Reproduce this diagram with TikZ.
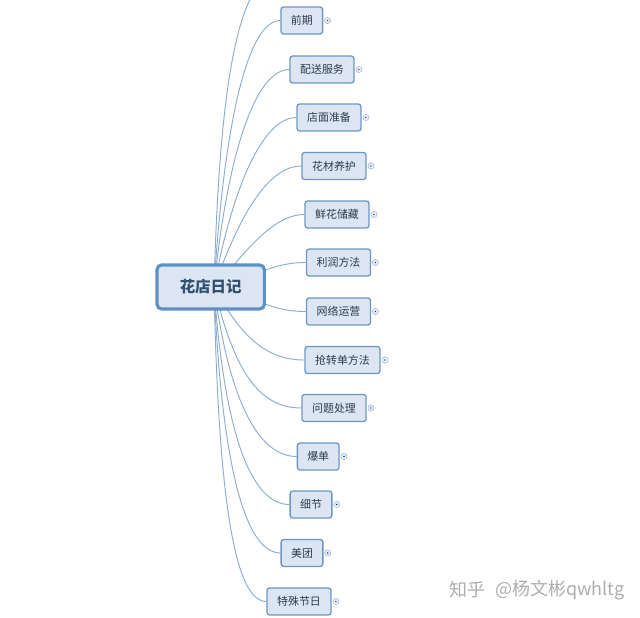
\documentclass[tikz,border=0pt]{standalone}
\usepackage{fontspec}
\setmainfont{Noto Sans CJK SC}
\definecolor{boxfill}{HTML}{DCE6F3}
\definecolor{boxedge}{HTML}{6F96C2}
\definecolor{rootedge}{HTML}{5E8FC6}
\definecolor{linkcol}{HTML}{8CACCB}
\definecolor{txt}{HTML}{2E3B4E}
\definecolor{roottxt}{HTML}{34506F}
\pgfdeclarelayer{links}
\pgfsetlayers{links,main}
\tikzset{
  x=0.75pt,y=-0.75pt,
  topic/.style={draw=boxedge,fill=boxfill,line width=1pt,rounded corners=2pt,inner sep=0pt,
    minimum height=20.25pt,text=txt,font=\fontsize{8.2pt}{10pt}\selectfont},
  central/.style={draw=rootedge,fill=boxfill,line width=2.4pt,rounded corners=3.5pt,inner sep=0pt,
    minimum width=80.5pt,minimum height=33pt,text=roottxt,font=\fontsize{11.6pt}{14pt}\selectfont\bfseries},
  link/.style={draw=linkcol,line width=0.7pt},
  plus/.style={circle,draw=boxedge!70,fill=boxfill!60,line width=0.4pt,minimum size=4.6pt,inner sep=0pt,
    path picture={\fill[txt] (path picture bounding box.center) circle (0.6pt);}},
  mark text/.style={text=black!32,font=\fontsize{13.5pt}{16pt}\selectfont,inner sep=0pt}
}
\newcommand{\topicnode}[5]{%
  \node[topic,minimum width=#3*0.75pt] (#1) at (#2,#4) {#5};
  \node[plus] (#1p) at ([xshift=3.2pt]#1.east) {};
}
\begin{document}
\begin{tikzpicture}
\useasboundingbox (0,0) rectangle (640,618);
\coordinate (hidden) at (285,-30);
\coordinate (rc) at (214,287);
\node[central] (root) at (210.7,287) {花店日记};
\topicnode{a}{301.8}{41.7}{20.5}{前期}
\topicnode{b}{322}{64}{69.5}{配送服务}
\topicnode{c}{329}{64}{117.5}{店面准备}
\topicnode{d}{334}{64}{166}{花材养护}
\topicnode{e}{337}{64}{214.5}{鲜花储藏}
\topicnode{f}{338.5}{64}{262.5}{利润方法}
\topicnode{g}{338.5}{64}{311.5}{网络运营}
\topicnode{h}{342.5}{75}{360}{抢转单方法}
\topicnode{i}{334}{64}{408}{问题处理}
\topicnode{j}{318.2}{41.7}{456.5}{爆单}
\topicnode{k}{311}{41.7}{504.5}{细节}
\topicnode{l}{302}{41.7}{553}{美团}
\topicnode{m}{299}{64}{601.5}{特殊节日}
\begin{pgfonlayer}{links}
\clip (0,0) rectangle (640,618);
\draw[link] (rc) .. controls (220,70) and (240,-30) .. (hidden);
\draw[link] (rc) .. controls (225,110) and (250,20.5) .. (a.west);
\draw[link] (rc) .. controls (228,150) and (256,69.5) .. (b.west);
\draw[link] (rc) .. controls (232,190) and (262,117.5) .. (c.west);
\draw[link] (rc) .. controls (236,225) and (265,166) .. (d.west);
\draw[link] (rc) .. controls (240,260) and (270,214.5) .. (e.west);
\draw[link] (rc) .. controls (255,278) and (270,262.5) .. (f.west);
\draw[link] (rc) .. controls (255,297) and (270,311.5) .. (g.west);
\draw[link] (rc) .. controls (240,335) and (265,360) .. (h.west);
\draw[link] (rc) .. controls (234,370) and (258,408) .. (i.west);
\draw[link] (rc) .. controls (229,400) and (258,456.5) .. (j.west);
\draw[link] (rc) .. controls (224,430) and (250,504.5) .. (k.west);
\draw[link] (rc) .. controls (221,455) and (243,553) .. (l.west);
\draw[link] (rc) .. controls (218,480) and (232,601.5) .. (m.west);
\end{pgfonlayer}
\node[mark text,anchor=west] (wm1) at (449,590) {知乎};
\node[mark text,anchor=west] (wm2) at (495,590) {@杨文彬qwhltg};
\end{tikzpicture}
\end{document}
